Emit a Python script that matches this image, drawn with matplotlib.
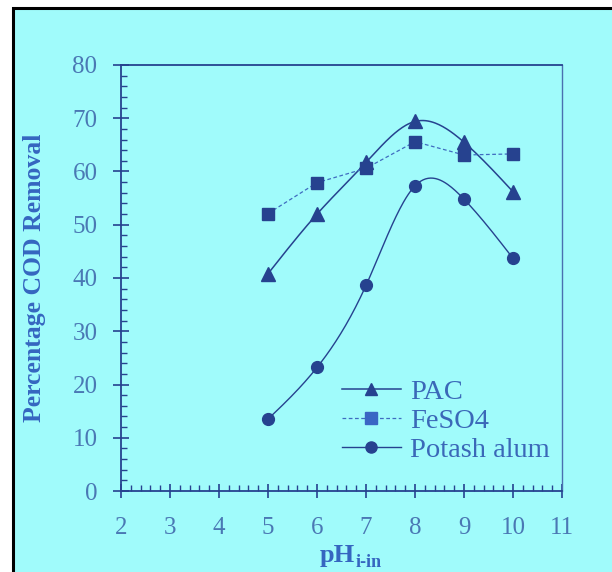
import numpy as np
import matplotlib
matplotlib.use('Agg')
import matplotlib.pyplot as plt
import matplotlib.patches as mpatches
from matplotlib.ticker import MultipleLocator

# values
ph = [5, 6, 7, 8, 9, 10]
pac = [40.8, 52.0, 61.7, 69.4, 65.5, 56.2]
feso4 = [52.1, 57.9, 60.6, 65.6, 63.1, 63.3]
alum = [13.5, 23.2, 38.6, 57.3, 54.8, 43.7]
labels = ['PAC', 'FeSO4', 'Potash alum']

plt.rcParams['font.family'] = ['Liberation Serif', 'DejaVu Serif']

bg = '#a0fbfb'
ink = '#26428f'
txt = '#4a78b4'


def spline(x, y, n=200):
    # natural cubic spline, only used to draw a smooth line through the points
    x = np.asarray(x, float)
    y = np.asarray(y, float)
    k = len(x)
    h = np.diff(x)
    A = np.zeros((k, k))
    r = np.zeros(k)
    A[0, 0] = A[-1, -1] = 1
    for i in range(1, k - 1):
        A[i, i - 1] = h[i - 1]
        A[i, i] = 2 * (h[i - 1] + h[i])
        A[i, i + 1] = h[i]
        r[i] = 6 * ((y[i + 1] - y[i]) / h[i] - (y[i] - y[i - 1]) / h[i - 1])
    m = np.linalg.solve(A, r)
    xs = np.linspace(x[0], x[-1], n)
    idx = np.clip(np.searchsorted(x, xs) - 1, 0, k - 2)
    x0, x1 = x[idx], x[idx + 1]
    hh = x1 - x0
    a = (x1 - xs) / hh
    b = (xs - x0) / hh
    ys = (a * y[idx] + b * y[idx + 1]
          + ((a ** 3 - a) * m[idx] + (b ** 3 - b) * m[idx + 1]) * hh ** 2 / 6)
    return xs, ys


fig = plt.figure(figsize=(6.12, 5.72), dpi=100, facecolor='white')
fig.patches.append(mpatches.Rectangle((13 / 612, -0.05), 1.2, (572 - 8) / 572 + 0.05,
                                      transform=fig.transFigure, facecolor=bg,
                                      edgecolor='black', linewidth=2.2, zorder=-1))

ax = fig.add_axes([121 / 612, 81 / 572, 441 / 612, 426 / 572])
ax.set_facecolor('none')

xs, ys = spline(ph, pac)
ax.plot(xs, ys, color=ink, lw=1.1)
ax.plot(ph, pac, '^', color=ink, ms=10, ls='none')

ax.plot(ph, feso4, color='#3f6cc0', lw=0.9, ls=(0, (3, 2)))
ax.plot(ph, feso4, 's', color=ink, ms=9, ls='none')

xs, ys = spline(ph, alum)
ax.plot(xs, ys, color=ink, lw=1.0)
ax.plot(ph, alum, 'o', color=ink, ms=8.5, ls='none')

h1 = plt.Line2D([], [], color=ink, lw=1.1, marker='^', ms=9)
h2 = plt.Line2D([], [], color='#3f6cc0', lw=0.9, ls=(0, (3, 2)), marker='s', ms=8,
                mfc='#3a66c4', mec='#3a66c4')
h3 = plt.Line2D([], [], color=ink, lw=1.0, marker='o', ms=8)
ax.legend([h1, h2, h3], labels, loc='center left', bbox_to_anchor=(0.50, 0.164),
          frameon=False, fontsize=20.5, labelcolor='#3a68b8', handlelength=2.1,
          handletextpad=0.3, labelspacing=0.1, borderpad=0, borderaxespad=0)

ax.set_xlim(2, 11)
ax.set_ylim(0, 80)
ax.xaxis.set_major_locator(MultipleLocator(1))
ax.xaxis.set_minor_locator(MultipleLocator(0.2))
ax.yaxis.set_major_locator(MultipleLocator(10))
ax.yaxis.set_minor_locator(MultipleLocator(2))

ax.tick_params(axis='y', which='major', direction='inout', length=12, width=1.2,
               color=ink, labelcolor=txt, labelsize=18, pad=11)
ax.tick_params(axis='y', which='minor', direction='in', length=4.5, width=1.0, color=ink)
ax.tick_params(axis='x', which='major', direction='inout', length=10, width=1.2,
               color=ink, labelcolor=txt, labelsize=18, pad=14)
ax.tick_params(axis='x', which='minor', direction='in', length=4, width=1.0, color=ink)

for s in ['left', 'bottom', 'top']:
    ax.spines[s].set_color(ink)
    ax.spines[s].set_linewidth(1.3)
ax.spines['right'].set_color('#4a70b0')
ax.spines['right'].set_linewidth(1.0)

ax.set_ylabel('Percentage COD Removal', fontsize=18.5, fontweight='bold', color='#3566c0')
ax.yaxis.set_label_coords(-0.17, 0.5)

fig.text(355 / 612, 10 / 572, 'pH', fontsize=19, fontweight='bold', color='#3566c0',
         ha='right', va='baseline')
fig.text(356 / 612, 5 / 572, 'i-in', fontsize=13, fontweight='bold', color='#3566c0',
         ha='left', va='baseline')

fig.savefig('out.png', dpi=100, facecolor='white')
